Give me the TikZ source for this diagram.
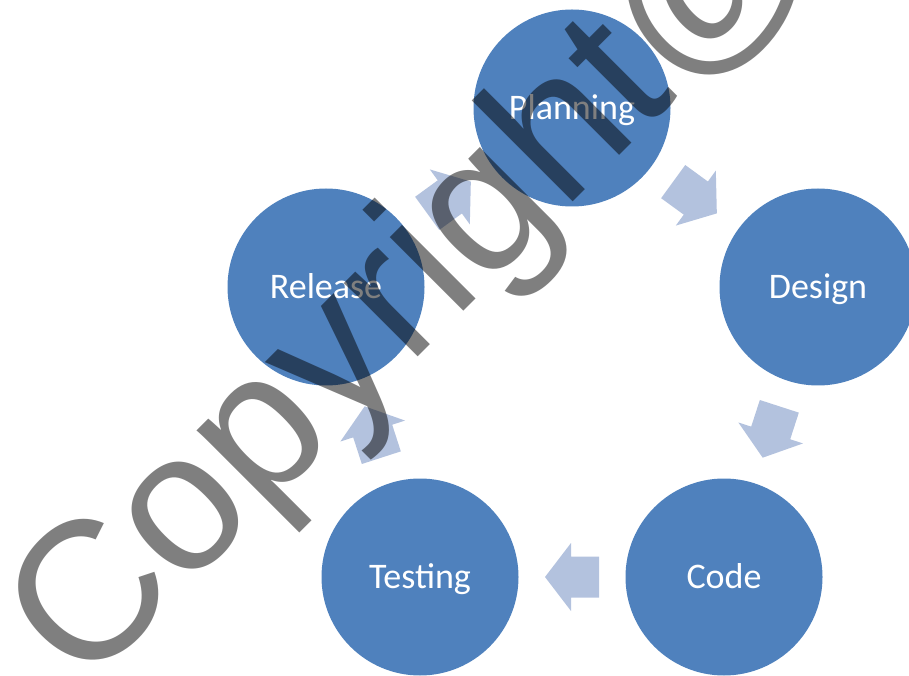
\documentclass[tikz,border=0pt]{standalone}
\usepackage{fontspec}
\usetikzlibrary{calc}
\newfontfamily\labelfont{Carlito}
\newfontfamily\wmfont{Liberation Sans}
\definecolor{circblue}{RGB}{79,129,189}
\definecolor{arrowblue}{RGB}{179,194,222}
\tikzset{
  phase/.style={circle, fill=circblue, draw=none, minimum size=197pt, inner sep=0pt},
  phaselabel/.style={text=white, font=\labelfont\fontsize{36}{40}\selectfont, anchor=base, inner sep=0pt},
  flowarrow/.style={fill=arrowblue, draw=none},
  watermark/.style={text=black, text opacity=0.5, font=\wmfont\fontsize{197}{200}\selectfont, rotate=45, anchor=base west, inner sep=0pt}
}
\newcommand\cyclearrow[3]{%
  \begin{scope}[shift={($(#1)!0.5!(#2)$)}, rotate=#3]
    \fill[flowarrow] (-27,-20.5) -- (1,-20.5) -- (1,-34) -- (27,0) -- (1,34) -- (1,20.5) -- (-27,20.5) -- cycle;
  \end{scope}}
\begin{document}
\begin{tikzpicture}[x=1pt,y=1pt]
  \useasboundingbox (0,0) rectangle (909,675);
  \clip (0,0) rectangle (909,675);
  \node[phase] (plan) at (572,567) {};
  \node[phase] (des)  at (818,388) {};
  \node[phase] (code) at (724,98) {};
  \node[phase] (test) at (420,98) {};
  \node[phase] (rel)  at (326,388) {};
  \cyclearrow{plan}{des}{-36.04}
  \cyclearrow{des}{code}{-107.96}
  \cyclearrow{code}{test}{180}
  \cyclearrow{test}{rel}{107.96}
  \cyclearrow{rel}{plan}{36.04}
  \node[phaselabel] (lplan) at ($(plan)+(0,-11.5)$) {Planning};
  \node[phaselabel] (ldes)  at ($(des)+(0,-11.5)$) {Design};
  \node[phaselabel] (lcode) at ($(code)+(0,-11.5)$) {Code};
  \node[phaselabel] (ltest) at ($(test)+(0,-11.5)$) {Testing};
  \node[phaselabel] (lrel)  at ($(rel)+(0,-11.5)$) {Release};
  \node[watermark] (wm) at (83,-17) {Copyright@};
\end{tikzpicture}
\end{document}
